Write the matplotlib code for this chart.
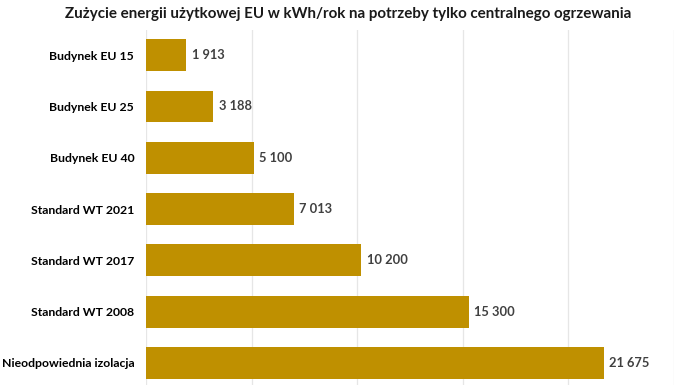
import matplotlib.pyplot as plt

categories = ['Budynek EU 15', 'Budynek EU 25', 'Budynek EU 40', 'Standard WT 2021',
              'Standard WT 2017', 'Standard WT 2008', 'Nieodpowiednia izolacja']
values = [1913, 3188, 5100, 7013, 10200, 15300, 21675]

plt.rcParams['font.family'] = ['Lato', 'DejaVu Sans']

fig = plt.figure(figsize=(6.96, 3.85), dpi=100)
ax = fig.add_axes([0.2098, 0.0, 0.7586, 0.922])

pos = list(range(len(categories)))
ax.barh(pos, values, height=0.62, color='#BF9000', zorder=3)

for p, v in zip(pos, values):
    ax.text(v + 250, p, '{:,}'.format(v).replace(',', ' '), va='center', ha='left',
            fontsize=9.3, fontweight='bold', color='#404040')

ax.set_yticks(pos)
ax.set_yticklabels(categories, fontsize=8.8, fontweight='bold')
ax.tick_params(axis='y', length=0, pad=8.5)
ax.set_xlim(0, 25000)
ax.set_ylim(6.43, -0.49)
ax.set_xticks(range(0, 25001, 5000))
ax.tick_params(axis='x', length=0, labelbottom=False)
ax.grid(axis='x', color='#E6E6E6', linewidth=0.9, zorder=0)
for s in ax.spines.values():
    s.set_visible(False)

fig.suptitle('Zużycie energii użytkowej EU w kWh/rok na potrzeby tylko centralnego ogrzewania',
             x=0.5, y=0.982, fontsize=10.9, fontweight='bold', color='#1a1a1a')

fig.savefig('out.png', dpi=100)
